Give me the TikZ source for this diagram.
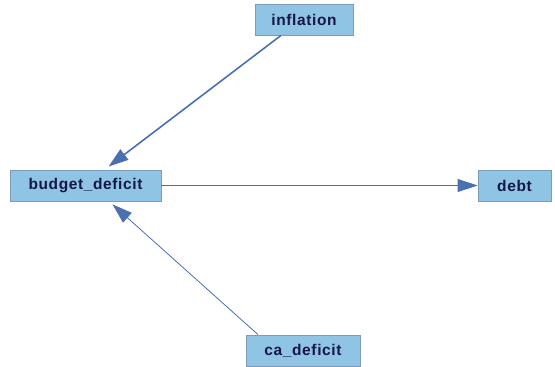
\documentclass[tikz,border=0pt]{standalone}
\usepackage{fontspec}
\setmainfont{Liberation Sans}[LetterSpace=4]
\usetikzlibrary{arrows.meta,calc}
\definecolor{boxfill}{HTML}{8FC4E4}
\definecolor{boxline}{HTML}{7B9CBA}
\definecolor{txt}{HTML}{16164A}
\definecolor{arr}{HTML}{4A70B0}
\begin{document}
\begin{tikzpicture}[x=1pt,y=-1pt,
  box/.style={draw=boxline,fill=boxfill,line width=0.8pt,inner sep=0pt,
    font=\fontsize{15.5}{17}\selectfont\bfseries,text=txt},
  conn/.style={draw=arr,line width=0.8pt,-{Triangle[length=20pt,width=13pt]}}]
\useasboundingbox (0,0) rectangle (555,367);
\node[box,minimum width=98pt,minimum height=31pt] (infl) at (304,19.5) {inflation};
\node[box,minimum width=151pt,minimum height=31pt] (bd) at (85.5,185.5) {budget\_deficit};
\node[box,minimum width=73pt,minimum height=31pt] (debt) at (514.5,185.5) {debt};
\node[box,minimum width=114pt,minimum height=31pt] (ca) at (303,350.5) {ca\_deficit};
\draw[conn,line width=1.6pt] ($(infl.south)+(-23,0)$) -- ($(bd.north)+(23,-3)$);
\draw[conn] ($(ca.north)+(-45,0)$) -- ($(bd.south)+(27,3)$);
\draw[conn] (bd.east) -- (debt.west);
\end{tikzpicture}
\end{document}
